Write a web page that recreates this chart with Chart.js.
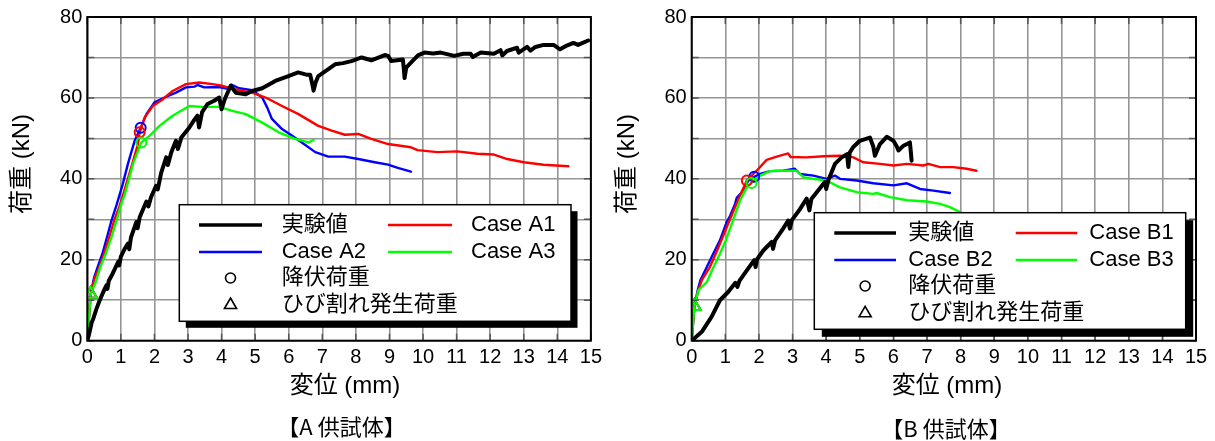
<!DOCTYPE html>
<html>
<head>
<meta charset="utf-8">
<script src="https://cdn.jsdelivr.net/npm/chart.js@4/dist/chart.umd.min.js"></script>
<style>
  html, body { margin: 0; padding: 0; background: #fff; }
  #wrap { position: relative; width: 1215px; height: 441px; }
  .panel { position: absolute; top: 0; height: 441px; }
</style>
</head>
<body>
<div id="wrap">
  <div class="panel" style="left:0;width:607px"><canvas id="chartA"></canvas></div>
  <div class="panel" style="left:607px;width:608px"><canvas id="chartB"></canvas></div>
</div>
<script>
// ---------- axis ranges / labels ----------
const xRange = [0, 15];          // 変位 (mm)
const yRange = [0, 80];          // 荷重 (kN)
const yLabelStep = 20;
const xTitle = '変位 (mm)';
const yTitle = '荷重 (kN)';
const markerNames = ['降伏荷重', 'ひび割れ発生荷重'];

// ---------- A 供試体 ----------
const captionA = '【A 供試体】';
const namesA = ['実験値', 'Case A1', 'Case A2', 'Case A3'];
const expA = [[0,0],[0.05,1.5],[0.13,4.5],[0.18,5.5],[0.27,7.8],[0.37,10],[0.5,12.5],[0.57,13.7],[0.6,12.8],[0.64,14.8],[0.75,16.5],[0.92,19.5],[0.95,18.6],[1.0,20.8],[1.12,22.8],[1.21,24],[1.25,22.6],[1.3,25.5],[1.46,29.3],[1.5,27.8],[1.56,30.5],[1.76,34.4],[1.82,33.2],[1.9,35.5],[2.05,38.3],[2.1,37.4],[2.2,41.5],[2.35,45.3],[2.4,43.4],[2.5,46.5],[2.64,49.4],[2.7,47.4],[2.8,50.2],[3.04,52.7],[3.18,54.5],[3.28,55.6],[3.33,52.7],[3.42,56.5],[3.58,58.5],[3.78,59.3],[3.93,60.1],[4.0,57.2],[4.1,59.8],[4.27,63],[4.42,61.3],[4.72,60.9],[4.91,61.7],[5.21,62.4],[5.6,64.2],[5.99,65.4],[6.28,66.3],[6.55,65.7],[6.64,65.7],[6.7,63.5],[6.74,61.8],[6.8,63.8],[6.88,65.4],[7.18,67.1],[7.38,68.3],[7.62,68.6],[7.87,69.1],[8.17,70],[8.46,69.3],[8.86,70.6],[8.96,70.4],[9.05,69.1],[9.4,69.5],[9.43,67],[9.45,64.9],[9.5,67.5],[9.64,68.7],[9.85,70.5],[10.04,71.2],[10.3,71],[10.53,71.2],[10.93,70.4],[11.2,70.9],[11.42,70.9],[11.48,70.1],[11.72,71.2],[12.11,70.9],[12.31,71.8],[12.36,70.5],[12.5,71.6],[12.8,72.4],[12.85,71.2],[13.1,72.6],[13.2,71.7],[13.35,72.6],[13.59,73.1],[13.89,73.1],[14.08,72],[14.3,73],[14.48,73.6],[14.62,73.1],[14.92,74.2]];
const caseA1 = [[0,0],[0.1,11.5],[0.22,15.5],[0.35,18],[0.5,21.5],[0.65,25.5],[0.8,29.7],[0.95,33],[1.1,37],[1.31,42.9],[1.51,48.6],[1.56,51.5],[1.71,55.2],[1.95,58],[2.25,59.7],[2.54,61.7],[2.94,63.4],[3.33,63.8],[3.73,63.4],[4.02,63],[4.52,61.9],[4.91,61.3],[5.31,60.1],[5.8,58],[6.29,56],[6.88,53.1],[7.28,51.9],[7.67,50.9],[8.07,51.1],[8.46,49.9],[8.96,48.6],[9.64,47.8],[9.84,47.1],[10.43,46.6],[11.02,46.8],[11.62,46.2],[12.11,46],[12.51,44.9],[13.0,44.1],[13.59,43.5],[14.33,43.1]];
const caseA2 = [[0,0],[0.1,11.5],[0.2,15.5],[0.3,18],[0.45,21.5],[0.6,26],[0.72,29.7],[0.87,33.5],[1.05,38.5],[1.21,43.7],[1.41,49.4],[1.59,52.6],[1.76,56],[2.0,58.9],[2.3,60.1],[2.64,61.3],[2.94,62.6],[3.2,62.8],[3.28,63.2],[3.48,62.6],[3.93,62.7],[4.22,62.2],[4.29,63.3],[4.52,62.4],[4.91,61.9],[5.21,60.1],[5.36,57.6],[5.5,54.8],[5.8,52.3],[6.09,50.7],[6.39,49],[6.79,46.6],[7.18,45.5],[7.67,45.5],[8.07,44.9],[8.56,44.1],[8.96,43.5],[9.25,42.7],[9.64,41.8]];
const caseA3 = [[0,0],[0.1,11.5],[0.25,14.5],[0.4,18.5],[0.55,21.5],[0.72,25.6],[0.87,29.7],[1.02,34],[1.12,36.3],[1.36,43.7],[1.61,49],[1.86,50.7],[2.15,53.1],[2.54,55.6],[3.04,58],[3.43,57.8],[3.93,57.8],[4.32,56.8],[4.72,56],[5.21,53.9],[5.7,51.5],[6.19,49.9],[6.59,49],[6.74,49.6]];
const yieldA = [[1.56,51.5],[1.59,52.6],[1.61,49.0]];   // A1, A2, A3
const crackA = [[0.1,11.5],[0.1,11.5],[0.1,11.5]];      // A1, A2, A3

// ---------- B 供試体 ----------
const captionB = '【B 供試体】';
const namesB = ['実験値', 'Case B1', 'Case B2', 'Case B3'];
const expB = [[0,0],[0.3,2.2],[0.59,5.9],[0.84,10],[1.09,12.1],[1.3,14.3],[1.36,13.3],[1.42,14.8],[1.64,17.4],[1.86,19.9],[1.9,18.2],[1.95,20.2],[2.13,22.3],[2.38,24.4],[2.42,22.7],[2.48,24.8],[2.72,27.7],[2.87,29.7],[2.92,27.7],[2.98,29.8],[3.22,32.5],[3.42,35.1],[3.5,32.2],[3.56,35],[3.72,36.7],[3.96,39.2],[4.0,37.5],[4.07,39.8],[4.26,43.7],[4.46,45.3],[4.62,46.1],[4.66,42.9],[4.7,46.5],[4.8,47.8],[5.0,49.4],[5.3,50.2],[5.4,48],[5.45,45.7],[5.6,48.6],[5.8,50.4],[6.0,49.4],[6.1,48],[6.15,47],[6.3,48.2],[6.49,49],[6.52,46.5],[6.54,44.5]];
const caseB1 = [[0,0],[0.08,8.5],[0.2,12.5],[0.3,15],[0.54,18.2],[0.74,22],[0.94,26],[1.14,30],[1.34,34],[1.5,37],[1.64,39.6],[1.93,42],[2.23,44.7],[2.53,45.5],[2.87,46.3],[2.94,45.4],[3.42,45.3],[3.92,45.6],[4.41,45.7],[4.81,45.3],[5.1,44.1],[5.6,43.7],[6.0,43.3],[6.4,43.7],[6.89,43.3],[7.04,43.7],[7.39,42.9],[7.78,42.9],[8.18,42.5],[8.47,42]];
const caseB2 = [[0,0],[0.08,8.5],[0.18,12.5],[0.26,15],[0.45,18.2],[0.64,21.5],[0.84,24.8],[1.04,29.3],[1.14,30.8],[1.29,33.8],[1.34,35.3],[1.49,36.7],[1.73,40.2],[1.86,40.5],[2.03,41.2],[2.33,41.9],[2.72,42],[3.07,42.5],[3.22,41.2],[3.62,40.8],[4.01,40],[4.26,40.8],[4.41,40],[4.91,39.6],[5.4,38.9],[6.0,38.4],[6.4,38.9],[6.79,37.5],[7.19,37.1],[7.68,36.5]];
const caseB3 = [[0,0],[0.08,8.5],[0.2,12.5],[0.45,14.5],[0.64,18],[0.84,21.5],[1.0,24.5],[1.19,28.8],[1.44,34.7],[1.64,37.9],[1.78,39.0],[2.03,40.8],[2.33,41.9],[2.63,42],[3.12,42],[3.32,40.4],[3.62,40],[4.01,39.6],[4.41,37.9],[4.91,36.7],[5.4,36.3],[5.5,36.5],[5.9,35.5],[6.4,34.7],[6.99,34.4],[7.39,33.8],[7.68,33],[7.98,31.8],[8.1,31]];
const yieldB = [[1.64,39.6],[1.86,40.5],[1.78,39.0]];   // B1, B2, B3
const crackB = [[0.08,8.5],[0.08,8.5],[0.08,8.5]];      // B1, B2, B3

// ---------- drawing ----------
const FONT = '"Liberation Sans", Arial, "Noto Sans CJK JP", sans-serif';
const caseColors = ['#ff0000', '#0000ff', '#00ff00'];   // case 1, 2, 3
const expColor = '#000000';

const toXY = arr => arr.map(p => ({ x: p[0], y: p[1] }));

function buildDatasets(names, exp, cases, yieldPts, crackPts) {
  const ds = [];
  // markers on top: index 0 is painted last
  [2, 0, 1].forEach(i => ds.push({
    label: markerNames[1], data: toXY([crackPts[i]]), showLine: false,
    pointStyle: 'triangle', pointRadius: 7.2, pointBorderWidth: 2,
    pointBackgroundColor: 'rgba(0,0,0,0)', pointBorderColor: caseColors[i]
  }));
  [2, 0, 1].forEach(i => ds.push({
    label: markerNames[0], data: toXY([yieldPts[i]]), showLine: false,
    pointStyle: 'circle', pointRadius: 5, pointBorderWidth: 2,
    pointBackgroundColor: 'rgba(0,0,0,0)', pointBorderColor: caseColors[i]
  }));
  ds.push({ label: names[0], data: toXY(exp), borderColor: expColor, borderWidth: 4, pointRadius: 0 });
  [2, 0, 1].forEach(i => ds.push({
    label: names[i + 1], data: toXY(cases[i]), borderColor: caseColors[i], borderWidth: 2.4, pointRadius: 0
  }));
  return ds;
}

function drawLegend(ctx, L, names) {
  ctx.save();
  ctx.fillStyle = '#000';
  ctx.fillRect(L.x + L.sh, L.y + L.sh, L.w, L.h);
  ctx.fillStyle = '#fff';
  ctx.fillRect(L.x, L.y, L.w, L.h);
  ctx.strokeStyle = '#000';
  ctx.lineWidth = 1.5;
  ctx.strokeRect(L.x, L.y, L.w, L.h);

  const rowY = L.rows.map(r => L.y + r);
  const seg = (x0, x1, y, color, w) => {
    ctx.beginPath(); ctx.strokeStyle = color; ctx.lineWidth = w;
    ctx.moveTo(L.x + x0, y); ctx.lineTo(L.x + x1, y); ctx.stroke();
  };
  seg(L.line[0], L.line[1], rowY[0], expColor, 3.5);
  seg(L.line[0], L.line[1], rowY[1], caseColors[1], 2.4);
  seg(L.line2[0], L.line2[1], rowY[0], caseColors[0], 2.4);
  seg(L.line2[0], L.line2[1], rowY[1], caseColors[2], 2.4);

  const mx = L.x + (L.line[0] + L.line[1]) / 2;
  ctx.strokeStyle = '#000'; ctx.lineWidth = 1.6;
  ctx.beginPath(); ctx.arc(mx, rowY[2], 5, 0, Math.PI * 2); ctx.stroke();
  const r = 7;
  ctx.beginPath();
  ctx.moveTo(mx, rowY[3] - r);
  ctx.lineTo(mx + r * Math.sin(2 * Math.PI / 3), rowY[3] + r / 2);
  ctx.lineTo(mx - r * Math.sin(2 * Math.PI / 3), rowY[3] + r / 2);
  ctx.closePath(); ctx.stroke();

  ctx.fillStyle = '#000';
  ctx.font = '22px ' + FONT;
  ctx.textAlign = 'left';
  ctx.textBaseline = 'middle';
  ctx.fillText(names[0], L.x + L.text, rowY[0]);
  ctx.fillText(names[2], L.x + L.text, rowY[1]);
  ctx.fillText(markerNames[0], L.x + L.text, rowY[2]);
  ctx.fillText(markerNames[1], L.x + L.text, rowY[3]);
  ctx.fillText(names[1], L.x + L.text2, rowY[0]);
  ctx.fillText(names[3], L.x + L.text2, rowY[1]);
  ctx.restore();
}

const decor = {
  id: 'decor',
  afterDatasetsDraw(chart, args, o) {
    const { ctx, chartArea: a, scales: { x, y } } = chart;
    ctx.save();
    // short inner ticks on all four sides
    ctx.strokeStyle = '#555';
    ctx.lineWidth = 1.5;
    ctx.beginPath();
    x.ticks.forEach(t => {
      const px = x.getPixelForValue(t.value);
      ctx.moveTo(px, a.bottom); ctx.lineTo(px, a.bottom - 7);
      ctx.moveTo(px, a.top); ctx.lineTo(px, a.top + 7);
    });
    y.ticks.forEach(t => {
      const py = y.getPixelForValue(t.value);
      ctx.moveTo(a.left, py); ctx.lineTo(a.left + 7, py);
      ctx.moveTo(a.right, py); ctx.lineTo(a.right - 7, py);
    });
    ctx.stroke();

    drawLegend(ctx, o.legend, o.names);

    // plot frame
    ctx.strokeStyle = '#000';
    ctx.lineWidth = 2;
    ctx.strokeRect(a.left, a.top, a.right - a.left, a.bottom - a.top);

    // axis titles and caption
    ctx.fillStyle = '#000';
    ctx.textAlign = 'center';
    ctx.textBaseline = 'middle';
    ctx.font = '24px ' + FONT;
    ctx.fillText(xTitle, o.xTitlePos[0], o.xTitlePos[1]);
    ctx.save();
    ctx.translate(o.yTitlePos[0], o.yTitlePos[1]);
    ctx.rotate(-Math.PI / 2);
    ctx.fillText(yTitle, 0, 0);
    ctx.restore();
    ctx.font = '22px "Noto Sans CJK JP", sans-serif';
    ctx.fillText(o.caption, o.captionPos[0], o.captionPos[1]);
    ctx.restore();
  }
};

function makeChart(id, names, exp, cases, yieldPts, crackPts, caption, lay) {
  return new Chart(document.getElementById(id), {
    type: 'line',
    data: { datasets: buildDatasets(names, exp, cases, yieldPts, crackPts) },
    options: {
      responsive: true,
      maintainAspectRatio: false,
      animation: false,
      events: [],
      layout: { padding: { left: 0, right: lay.padRight, top: 16, bottom: 0 } },
      elements: { line: { tension: 0, borderJoinStyle: 'round', borderCapStyle: 'round', fill: false } },
      plugins: {
        legend: { display: false },
        tooltip: { enabled: false },
        decor: {
          legend: lay.legend, names, caption,
          xTitlePos: lay.xTitlePos, yTitlePos: lay.yTitlePos, captionPos: lay.captionPos
        }
      },
      scales: {
        x: {
          type: 'linear', min: xRange[0], max: xRange[1],
          afterFit: s => { s.height = 100.3; },
          grid: { color: '#959595', lineWidth: 1.6, drawTicks: false },
          border: { display: false },
          ticks: { stepSize: 1, autoSkip: false, maxRotation: 0, padding: 5, color: '#000', font: { size: 20, family: FONT } }
        },
        y: {
          type: 'linear', min: yRange[0], max: yRange[1],
          afterFit: s => { s.width = lay.yWidth; },
          grid: { color: '#959595', lineWidth: 1.6, drawTicks: false },
          border: { display: false },
          ticks: {
            stepSize: 10, padding: 5, color: '#000', font: { size: 20, family: FONT },
            callback: v => (v % yLabelStep === 0 ? String(v) : '')
          }
        }
      }
    },
    plugins: [decor]
  });
}

makeChart('chartA', namesA, expA, [caseA1, caseA2, caseA3], yieldA, crackA, captionA, {
  padRight: 13, yWidth: 87.3,
  legend: { x: 179.3, y: 204.7, w: 391.7, h: 116.6, sh: 6.5, rows: [20.3, 47.3, 73.3, 100.3],
            line: [19.7, 82.7], text: 102.4, line2: [208.7, 272.7], text2: 291.7 },
  xTitlePos: [345, 386], yTitlePos: [22, 164], captionPos: [341.5, 427]
});

makeChart('chartB', namesB, expB, [caseB1, caseB2, caseB3], yieldB, crackB, captionB, {
  padRight: 19, yWidth: 84.7,
  legend: { x: 207.3, y: 212.7, w: 371.4, h: 116.6, sh: 7.5, rows: [20.3, 47.3, 73.3, 100.6],
            line: [20, 81.7], text: 94, line2: [201.4, 263], text2: 275 },
  xTitlePos: [340, 386], yTitlePos: [20.5, 164], captionPos: [339, 429]
});
</script>
</body>
</html>
